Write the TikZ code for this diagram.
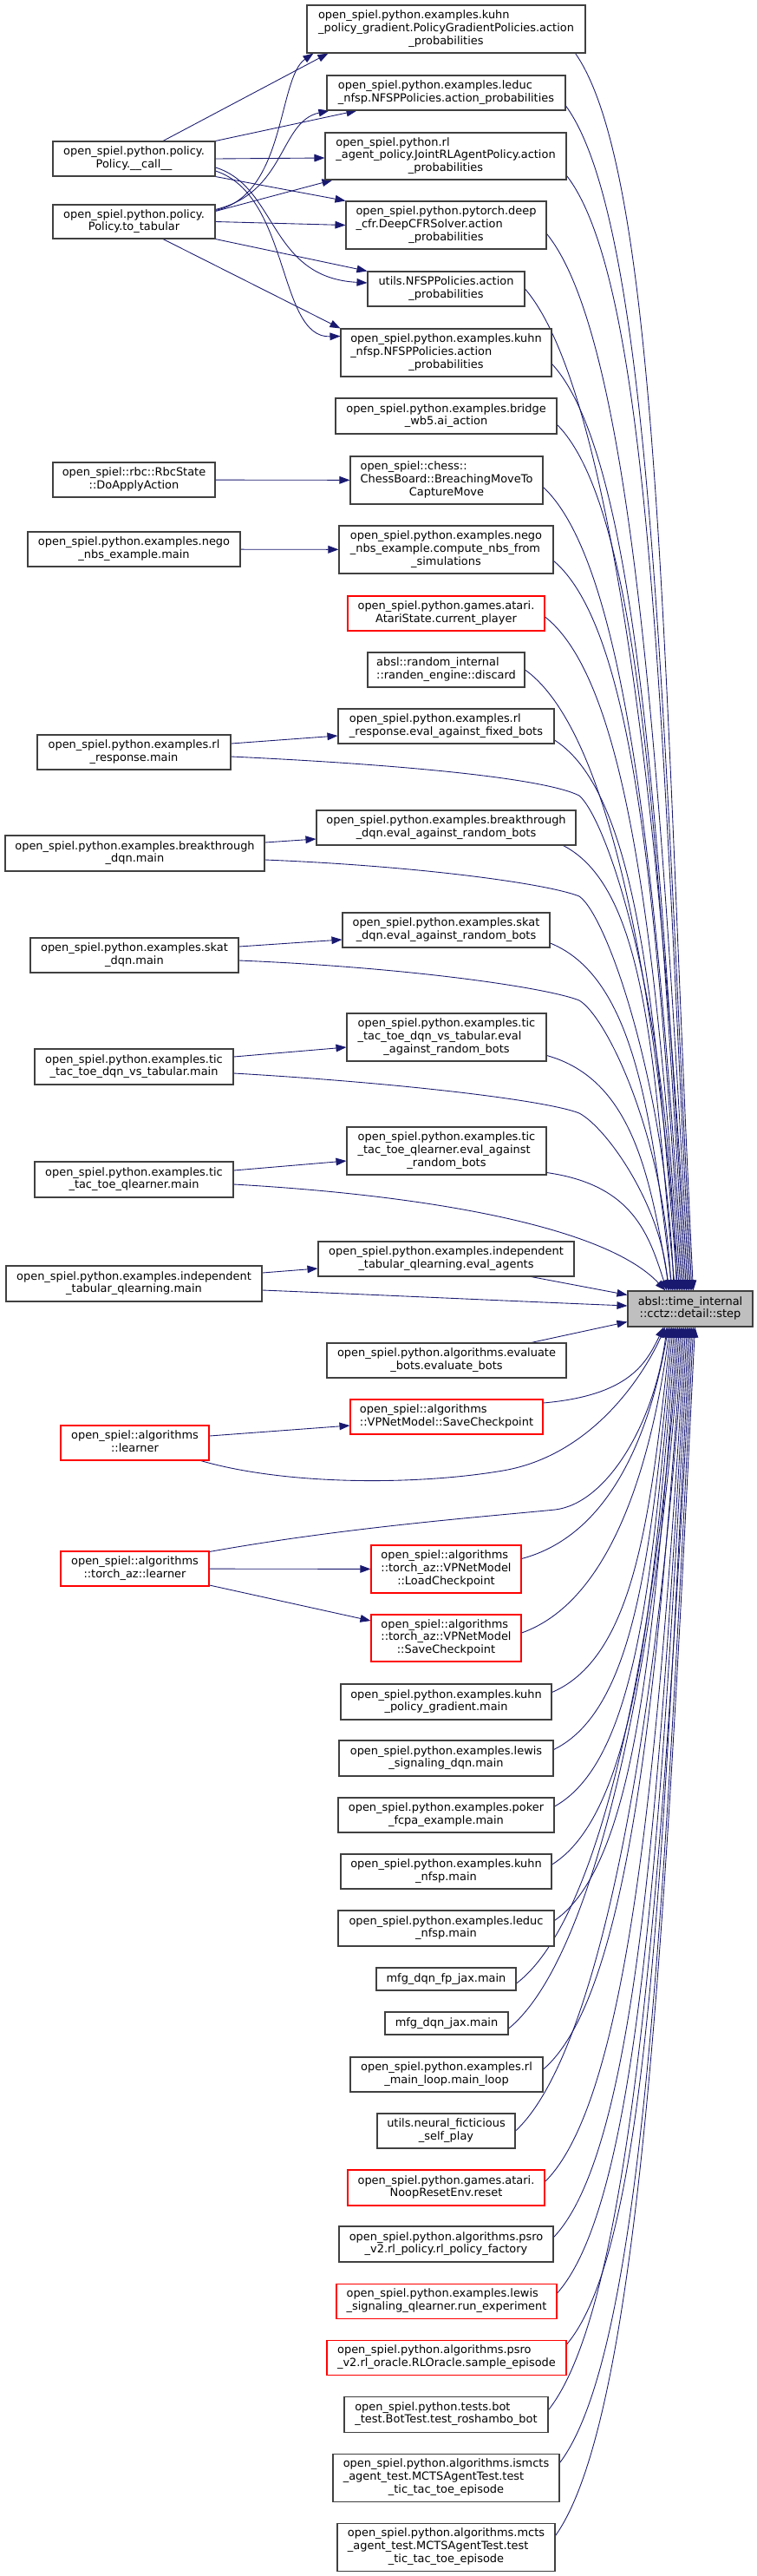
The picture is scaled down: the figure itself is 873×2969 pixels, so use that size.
\documentclass[tikz,border=0pt]{standalone}
\usepackage{fontspec}
\setmainfont{DejaVu Sans}
\usetikzlibrary{arrows.meta,calc}
\definecolor{mblue}{HTML}{191970}
\definecolor{bord}{HTML}{404040}
\definecolor{rootfill}{HTML}{BFBFBF}
\pgfdeclarelayer{bg}
\pgfsetlayers{bg,main}
\newcommand\labtwo[2]{\begin{tabular}{@{}l@{}}#1\\\multicolumn{1}{@{}c@{}}{#2}\end{tabular}}
\newcommand\labthree[3]{\begin{tabular}{@{}l@{}}#1\\#2\\\multicolumn{1}{@{}c@{}}{#3}\end{tabular}}
\newcommand\gnode[7]{\node[#6,minimum width={(#4-#2)*0.75pt},minimum height={(#5-#3)*0.75pt}] (#1) at ({(#2+#4)/2},{(#3+#5)/2}) {#7};}
\newcommand\upedge[4]{%
  \pgfmathsetmacro\dyv{1488-#3}%
  \pgfmathsetmacro\cax{#2+100}%
  \pgfmathsetmacro\cay{#3+0.1*\dyv}%
  \pgfmathsetmacro\cbx{724+#4-20-0.01*\dyv}%
  \pgfmathsetmacro\cby{1488-0.48*\dyv}%
  \draw[calls] #1 .. controls (\cax,\cay) and (\cbx,\cby) .. ($(step.north west)+(#4,0)$);}
\newcommand\downedge[4]{%
  \pgfmathsetmacro\dyv{#3-1529}%
  \pgfmathsetmacro\cax{#2+100}%
  \pgfmathsetmacro\cay{#3-0.1*\dyv}%
  \pgfmathsetmacro\cbx{724+#4-20-0.01*\dyv}%
  \pgfmathsetmacro\cby{1529+0.48*\dyv}%
  \draw[calls] #1 .. controls (\cax,\cay) and (\cbx,\cby) .. ($(step.south west)+(#4,0)$);}
\tikzset{
  gbox/.style={draw=bord,fill=white,line width=0.8pt,inner xsep=4pt,inner ysep=1pt,font=\fontsize{9.7}{11}\selectfont},
  rbox/.style={gbox,draw=red},
  rootbox/.style={gbox,fill=rootfill},
  calls/.style={draw=mblue,line width=0.65pt,-{Triangle[length=9pt,width=6.5pt]}}
}
\begin{document}
\begin{tikzpicture}[x=0.75pt,y=-0.75pt]
\useasboundingbox (0,0) rectangle (873,2969);
\begin{pgfonlayer}{bg}
\fill[white] (0,0) rectangle (873,2969);
\end{pgfonlayer}
% root
\gnode{step}{724}{1488}{868}{1529}{rootbox}{\labtwo{absl::time\_internal}{::cctz::detail::step}}
% middle column
\gnode{M1}{354}{6}{675}{61}{gbox}{\labthree{open\_spiel.python.examples.kuhn}{\_policy\_gradient.PolicyGradientPolicies.action}{\_probabilities}}
\gnode{M2}{377}{87}{652}{127}{gbox}{\labtwo{open\_spiel.python.examples.leduc}{\_nfsp.NFSPPolicies.action\_probabilities}}
\gnode{M3}{375}{153}{653}{207}{gbox}{\labthree{open\_spiel.python.rl}{\_agent\_policy.JointRLAgentPolicy.action}{\_probabilities}}
\gnode{M4}{399}{232}{630}{287}{gbox}{\labthree{open\_spiel.python.pytorch.deep}{\_cfr.DeepCFRSolver.action}{\_probabilities}}
\gnode{M5}{424}{313}{605}{353}{gbox}{\labtwo{utils.NFSPPolicies.action}{\_probabilities}}
\gnode{M6}{393}{379}{636}{434}{gbox}{\labthree{open\_spiel.python.examples.kuhn}{\_nfsp.NFSPPolicies.action}{\_probabilities}}
\gnode{M7}{387}{459}{642}{500}{gbox}{\labtwo{open\_spiel.python.examples.bridge}{\_wb5.ai\_action}}
\gnode{M8}{404}{526}{626}{581}{gbox}{\labthree{open\_spiel::chess::}{ChessBoard::BreachingMoveTo}{CaptureMove}}
\gnode{M9}{391}{606}{638}{661}{gbox}{\labthree{open\_spiel.python.examples.nego}{\_nbs\_example.compute\_nbs\_from}{\_simulations}}
\gnode{M10}{401}{687}{628}{727}{rbox}{\labtwo{open\_spiel.python.games.atari.}{AtariState.current\_player}}
\gnode{M11}{424}{752}{605}{792}{gbox}{\labtwo{absl::random\_internal}{::randen\_engine::discard}}
\gnode{M12}{390}{817}{639}{857}{gbox}{\labtwo{open\_spiel.python.examples.rl}{\_response.eval\_against\_fixed\_bots}}
\gnode{M13}{365}{934}{664}{974}{gbox}{\labtwo{open\_spiel.python.examples.breakthrough}{\_dqn.eval\_against\_random\_bots}}
\gnode{M14}{395}{1052}{634}{1092}{gbox}{\labtwo{open\_spiel.python.examples.skat}{\_dqn.eval\_against\_random\_bots}}
\gnode{M15}{400}{1168}{630}{1223}{gbox}{\labthree{open\_spiel.python.examples.tic}{\_tac\_toe\_dqn\_vs\_tabular.eval}{\_against\_random\_bots}}
\gnode{M16}{400}{1299}{630}{1354}{gbox}{\labthree{open\_spiel.python.examples.tic}{\_tac\_toe\_qlearner.eval\_against}{\_random\_bots}}
\gnode{M17}{367}{1431}{662}{1471}{gbox}{\labtwo{open\_spiel.python.examples.independent}{\_tabular\_qlearning.eval\_agents}}
\gnode{M18}{377}{1548}{653}{1588}{gbox}{\labtwo{open\_spiel.python.algorithms.evaluate}{\_bots.evaluate\_bots}}
\gnode{M19}{404}{1613}{626}{1653}{rbox}{\labtwo{open\_spiel::algorithms}{::VPNetModel::SaveCheckpoint}}
\gnode{M20}{428}{1781}{601}{1836}{rbox}{\labthree{open\_spiel::algorithms}{::torch\_az::VPNetModel}{::LoadCheckpoint}}
\gnode{M21}{428}{1861}{601}{1915}{rbox}{\labthree{open\_spiel::algorithms}{::torch\_az::VPNetModel}{::SaveCheckpoint}}
\gnode{M22}{393}{1941}{636}{1982}{gbox}{\labtwo{open\_spiel.python.examples.kuhn}{\_policy\_gradient.main}}
\gnode{M23}{391}{2006}{638}{2047}{gbox}{\labtwo{open\_spiel.python.examples.lewis}{\_signaling\_dqn.main}}
\gnode{M24}{390}{2072}{639}{2112}{gbox}{\labtwo{open\_spiel.python.examples.poker}{\_fcpa\_example.main}}
\gnode{M25}{393}{2137}{636}{2177}{gbox}{\labtwo{open\_spiel.python.examples.kuhn}{\_nfsp.main}}
\gnode{M26}{390}{2202}{639}{2243}{gbox}{\labtwo{open\_spiel.python.examples.leduc}{\_nfsp.main}}
\gnode{M27}{434}{2268}{595}{2294}{gbox}{mfg\_dqn\_fp\_jax.main}
\gnode{M28}{444}{2319}{586}{2345}{gbox}{mfg\_dqn\_jax.main}
\gnode{M29}{404}{2371}{626}{2411}{gbox}{\labtwo{open\_spiel.python.examples.rl}{\_main\_loop.main\_loop}}
\gnode{M30}{435}{2436}{594}{2476}{gbox}{\labtwo{utils.neural\_ficticious}{\_self\_play}}
\gnode{M31}{401}{2501}{628}{2542}{rbox}{\labtwo{open\_spiel.python.games.atari.}{NoopResetEnv.reset}}
\gnode{M32}{391}{2566}{638}{2607}{gbox}{\labtwo{open\_spiel.python.algorithms.psro}{\_v2.rl\_policy.rl\_policy\_factory}}
\gnode{M33}{388}{2632}{642}{2672}{rbox}{\labtwo{open\_spiel.python.examples.lewis}{\_signaling\_qlearner.run\_experiment}}
\gnode{M34}{377}{2697}{653}{2737}{rbox}{\labtwo{open\_spiel.python.algorithms.psro}{\_v2.rl\_oracle.RLOracle.sample\_episode}}
\gnode{M35}{397}{2762}{632}{2803}{gbox}{\labtwo{open\_spiel.python.tests.bot}{\_test.BotTest.test\_roshambo\_bot}}
\gnode{M36}{384}{2828}{645}{2883}{gbox}{\labthree{open\_spiel.python.algorithms.ismcts}{\_agent\_test.MCTSAgentTest.test}{\_tic\_tac\_toe\_episode}}
\gnode{M37}{389}{2908}{640}{2963}{gbox}{\labthree{open\_spiel.python.algorithms.mcts}{\_agent\_test.MCTSAgentTest.test}{\_tic\_tac\_toe\_episode}}
% left column
\gnode{L1}{61}{163}{248}{203}{gbox}{\labtwo{open\_spiel.python.policy.}{Policy.\_\_call\_\_}}
\gnode{L2}{61}{236}{248}{275}{gbox}{\labtwo{open\_spiel.python.policy.}{Policy.to\_tabular}}
\gnode{L3}{61}{533}{248}{573}{gbox}{\labtwo{open\_spiel::rbc::RbcState}{::DoApplyAction}}
\gnode{L4}{32}{613}{277}{653}{gbox}{\labtwo{open\_spiel.python.examples.nego}{\_nbs\_example.main}}
\gnode{L5}{43}{847}{266}{887}{gbox}{\labtwo{open\_spiel.python.examples.rl}{\_response.main}}
\gnode{L6}{6}{963}{305}{1004}{gbox}{\labtwo{open\_spiel.python.examples.breakthrough}{\_dqn.main}}
\gnode{L7}{35}{1081}{275}{1121}{gbox}{\labtwo{open\_spiel.python.examples.skat}{\_dqn.main}}
\gnode{L8}{40}{1209}{269}{1250}{gbox}{\labtwo{open\_spiel.python.examples.tic}{\_tac\_toe\_dqn\_vs\_tabular.main}}
\gnode{L9}{40}{1339}{269}{1380}{gbox}{\labtwo{open\_spiel.python.examples.tic}{\_tac\_toe\_qlearner.main}}
\gnode{L10}{7}{1459}{302}{1500}{gbox}{\labtwo{open\_spiel.python.examples.independent}{\_tabular\_qlearning.main}}
\gnode{L11}{70}{1643}{241}{1683}{rbox}{\labtwo{open\_spiel::algorithms}{::learner}}
\gnode{L12}{70}{1788}{241}{1828}{rbox}{\labtwo{open\_spiel::algorithms}{::torch\_az::learner}}
\begin{pgfonlayer}{bg}
% policy edges
\draw[calls] ($(L1.north)+(33.5,0)$) -- ($(M1.south west)+(25,0)$);
\draw[calls] ($(L2.north east)+(0,7)$) .. controls (330,225) and (320,90) .. ($(M1.south west)+(8,0)$);
\draw[calls] (L1.north east) -- ($(M2.south west)+(35,0)$);
\draw[calls] ($(L2.north east)+(0,6)$) .. controls (330,222) and (322,140) .. ($(M2.south west)+(3,0)$);
\draw[calls] (L1.east) -- ($(M3.west)+(0,2)$);
\draw[calls] ($(L2.north east)+(0,8)$) -- ($(M3.south west)+(9,0)$);
\draw[calls] (L1.south east) -- (M4.north west);
\draw[calls] (L2.east) -- (M4.west);
\draw[calls] ($(L1.east)+(0,10)$) .. controls (320,215) and (310,320) .. ($(M5.west)+(0,-7)$);
\draw[calls] (L2.south east) -- (M5.north west);
\draw[calls] ($(L1.east)+(0,14)$) .. controls (335,225) and (320,390) .. ($(M6.north west)+(0,9)$);
\draw[calls] ($(L2.south)+(33.5,0)$) -- (M6.north west);
% left to middle
\draw[calls] (L3) -- (M8);
\draw[calls] (L4) -- (M9);
\draw[calls] ($(L5.east)+(0,-10)$) -- ($(M12.west)+(0,11)$);
\draw[calls] ($(L6.east)+(0,-12.5)$) -- ($(M13.west)+(0,13)$);
\draw[calls] ($(L7.east)+(0,-10)$) -- ($(M14.west)+(0,11)$);
\draw[calls] ($(L8.east)+(0,-11.5)$) -- ($(M15.west)+(0,11.5)$);
\draw[calls] ($(L9.east)+(0,-10.5)$) -- ($(M16.west)+(0,11.5)$);
\draw[calls] ($(L10.east)+(0,-12.5)$) -- ($(M17.west)+(0,11)$);
\draw[calls] ($(L11.east)+(0,-8)$) -- ($(M19.west)+(0,10)$);
\draw[calls] (L12) -- (M20);
\draw[calls] ($(L12.east)+(0,19)$) -- ($(M21.west)+(0,-20)$);
% upper edges into step
\upedge{($(M1.south east)+(-12,0)$)}{663}{61}{76}
\upedge{($(M2.east)+(0,15)$)}{652}{122}{74.4}
\upedge{($(M3.south east)+(0,-5)$)}{653}{202}{72.8}
\upedge{($(M4.east)+(0,10)$)}{630}{270}{71.2}
\upedge{(M5.east)}{605}{333}{69.6}
\upedge{($(M6.east)+(0,13)$)}{636}{420}{68}
\upedge{($(M7.east)+(0,10)$)}{642}{490}{66.4}
\upedge{($(M8.east)+(0,8)$)}{626}{562}{64.8}
\upedge{($(M9.east)+(0,13)$)}{638}{647}{63.2}
\upedge{($(M10.east)+(0,4)$)}{628}{711}{61.6}
\upedge{(M11.east)}{605}{772}{60}
\upedge{($(M12.east)+(0,16)$)}{639}{853}{58.4}
\upedge{($(M13.south east)+(-15,0)$)}{649}{974}{55.2}
\upedge{($(M14.east)+(0,15)$)}{634}{1087}{52}
\upedge{($(M15.east)+(0,21)$)}{630}{1217}{48.8}
\upedge{($(M16.east)+(0,25)$)}{630}{1352}{45.6}
\draw[calls] ($(L5.east)+(0,5)$) .. controls (480,882) and (630,898) .. (668,917) .. controls (700,945) and (770,1150) .. ($(step.north west)+(56.8,0)$);
\draw[calls] ($(L6.east)+(0,7.5)$) .. controls (480,998) and (630,1018) .. (668,1033) .. controls (700,1055) and (768,1250) .. ($(step.north west)+(53.6,0)$);
\draw[calls] ($(L7.east)+(0,6)$) .. controls (470,1115) and (630,1138) .. (668,1153) .. controls (700,1172) and (766,1310) .. ($(step.north west)+(50.4,0)$);
\draw[calls] ($(L8.east)+(0,7.5)$) .. controls (460,1248) and (630,1268) .. (668,1283) .. controls (700,1300) and (763,1390) .. ($(step.north west)+(47.2,0)$);
\draw[calls] ($(L9.east)+(0,5.5)$) .. controls (500,1378) and (700,1415) .. ($(step.north west)+(44,0)$);
% side edges into step
\draw[calls] ($(M17.south east)+(-50,0)$) -- ($(step.west)+(0,-16)$);
\draw[calls] ($(L10.east)+(0,7.5)$) .. controls (450,1493) and (600,1500) .. ($(step.west)+(0,-3.5)$);
\draw[calls] ($(M18.north east)+(-41,0)$) -- ($(step.west)+(0,15)$);
% lower edges into step
\downedge{($(M19.east)+(0,-16)$)}{626}{1617}{42}
\draw[calls] ($(L11.south east)+(-10,0)$) .. controls (330,1712) and (480,1712) .. (580,1695) .. controls (680,1678) and (740,1590) .. ($(step.south west)+(43.8,0)$);
\draw[calls] ($(L12.north east)+(0,1)$) .. controls (400,1760) and (560,1748) .. (640,1740) .. controls (700,1733) and (755,1640) .. ($(step.south west)+(45.6,0)$);
\downedge{($(M20.east)+(0,-12)$)}{601}{1797}{47.4}
\downedge{($(M21.east)+(0,-6)$)}{601}{1882}{49.2}
\downedge{($(M22.east)+(0,-11)$)}{636}{1950}{51}
\downedge{($(M23.east)+(0,-10)$)}{638}{2017}{52.8}
\downedge{($(M24.east)+(0,-10)$)}{639}{2082}{54.6}
\downedge{($(M25.east)+(0,-8)$)}{636}{2149}{56.4}
\downedge{($(M26.east)+(0,-9)$)}{639}{2213}{58.2}
\downedge{($(M27.east)+(0,5)$)}{595}{2286}{60}
\downedge{($(M28.east)+(0,6)$)}{586}{2338}{61.8}
\downedge{($(M29.east)+(0,-6)$)}{626}{2385}{63.6}
\downedge{(M30.east)}{594}{2456}{65.4}
\downedge{($(M31.east)+(0,-7)$)}{628}{2515}{67.2}
\downedge{($(M32.east)+(0,-8)$)}{638}{2579}{69}
\downedge{($(M33.east)+(0,-9)$)}{642}{2643}{70.8}
\downedge{($(M34.east)+(0,-15)$)}{653}{2702}{72.6}
\downedge{($(M35.east)+(0,-5)$)}{632}{2777}{74.4}
\downedge{($(M36.east)+(0,-17)$)}{645}{2838}{76.2}
\downedge{($(M37.east)+(0,-13)$)}{640}{2922}{78}
\end{pgfonlayer}
\end{tikzpicture}
\end{document}
